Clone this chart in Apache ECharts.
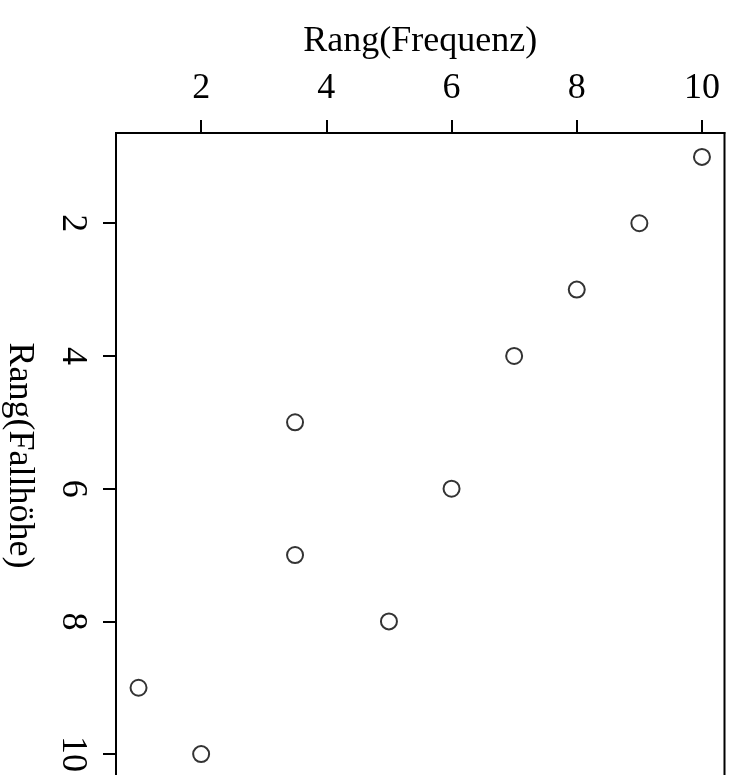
<!DOCTYPE html>
<html>
<head>
<meta charset="utf-8">
<script src="https://cdn.jsdelivr.net/npm/echarts@6/dist/echarts.min.js"></script>
<style>
  html, body { margin: 0; padding: 0; background: #fff; }
  #chart { width: 731px; height: 775px; }
</style>
</head>
<body>
<div id="chart"></div>
<script>
// Rang(Frequenz) against Rang(Fallhöhe)
const rangFrequenz = [10, 9, 8, 7, 3.5, 6, 3.5, 5, 1, 2];
const rangFallhoehe = [1, 2, 3, 4, 5, 6, 7, 8, 9, 10];
const tickValues = [2, 4, 6, 8, 10];

const points = rangFrequenz.map((v, i) => [v, rangFallhoehe[i]]);

const chart = echarts.init(document.getElementById("chart"));
const font = "Liberation Serif";

chart.setOption({
  animation: false,
  backgroundColor: "#fff",
  grid: {
    left: 116,
    top: 133,
    width: 608.5,
    height: 645,
    outerBoundsMode: "none",
    containLabel: false,
    show: true,
    borderColor: "#000",
    borderWidth: 2,
    backgroundColor: "transparent"
  },
  xAxis: {
    type: "value",
    position: "top",
    min: 0.64,
    max: 10.36,
    name: "Rang(Frequenz)",
    nameLocation: "middle",
    nameGap: 73,
    nameTextStyle: { fontFamily: font, fontSize: 36, color: "#000" },
    splitLine: { show: false },
    axisLine: { show: true, lineStyle: { color: "#000", width: 2 } },
    axisTick: { show: true, length: 13, lineStyle: { color: "#000", width: 2 }, customValues: tickValues },
    axisLabel: { fontFamily: font, fontSize: 36, color: "#000", margin: 26, customValues: tickValues }
  },
  yAxis: {
    type: "value",
    position: "left",
    inverse: true,
    min: 0.64,
    max: 10.36,
    name: "Rang(Fallhöhe)",
    nameLocation: "middle",
    nameRotate: -90,
    nameGap: 79,
    nameTextStyle: { fontFamily: font, fontSize: 36, color: "#000" },
    splitLine: { show: false },
    axisLine: { show: true, lineStyle: { color: "#000", width: 2 } },
    axisTick: { show: true, length: 13, lineStyle: { color: "#000", width: 2 }, customValues: tickValues },
    axisLabel: { fontFamily: font, fontSize: 36, color: "#000", margin: 26, rotate: -90, customValues: tickValues }
  },
  series: [{
    type: "scatter",
    data: points,
    symbol: "circle",
    symbolSize: 16,
    itemStyle: { color: "rgba(0,0,0,0)", borderColor: "#000", borderWidth: 2 }
  }]
});
</script>
</body>
</html>
